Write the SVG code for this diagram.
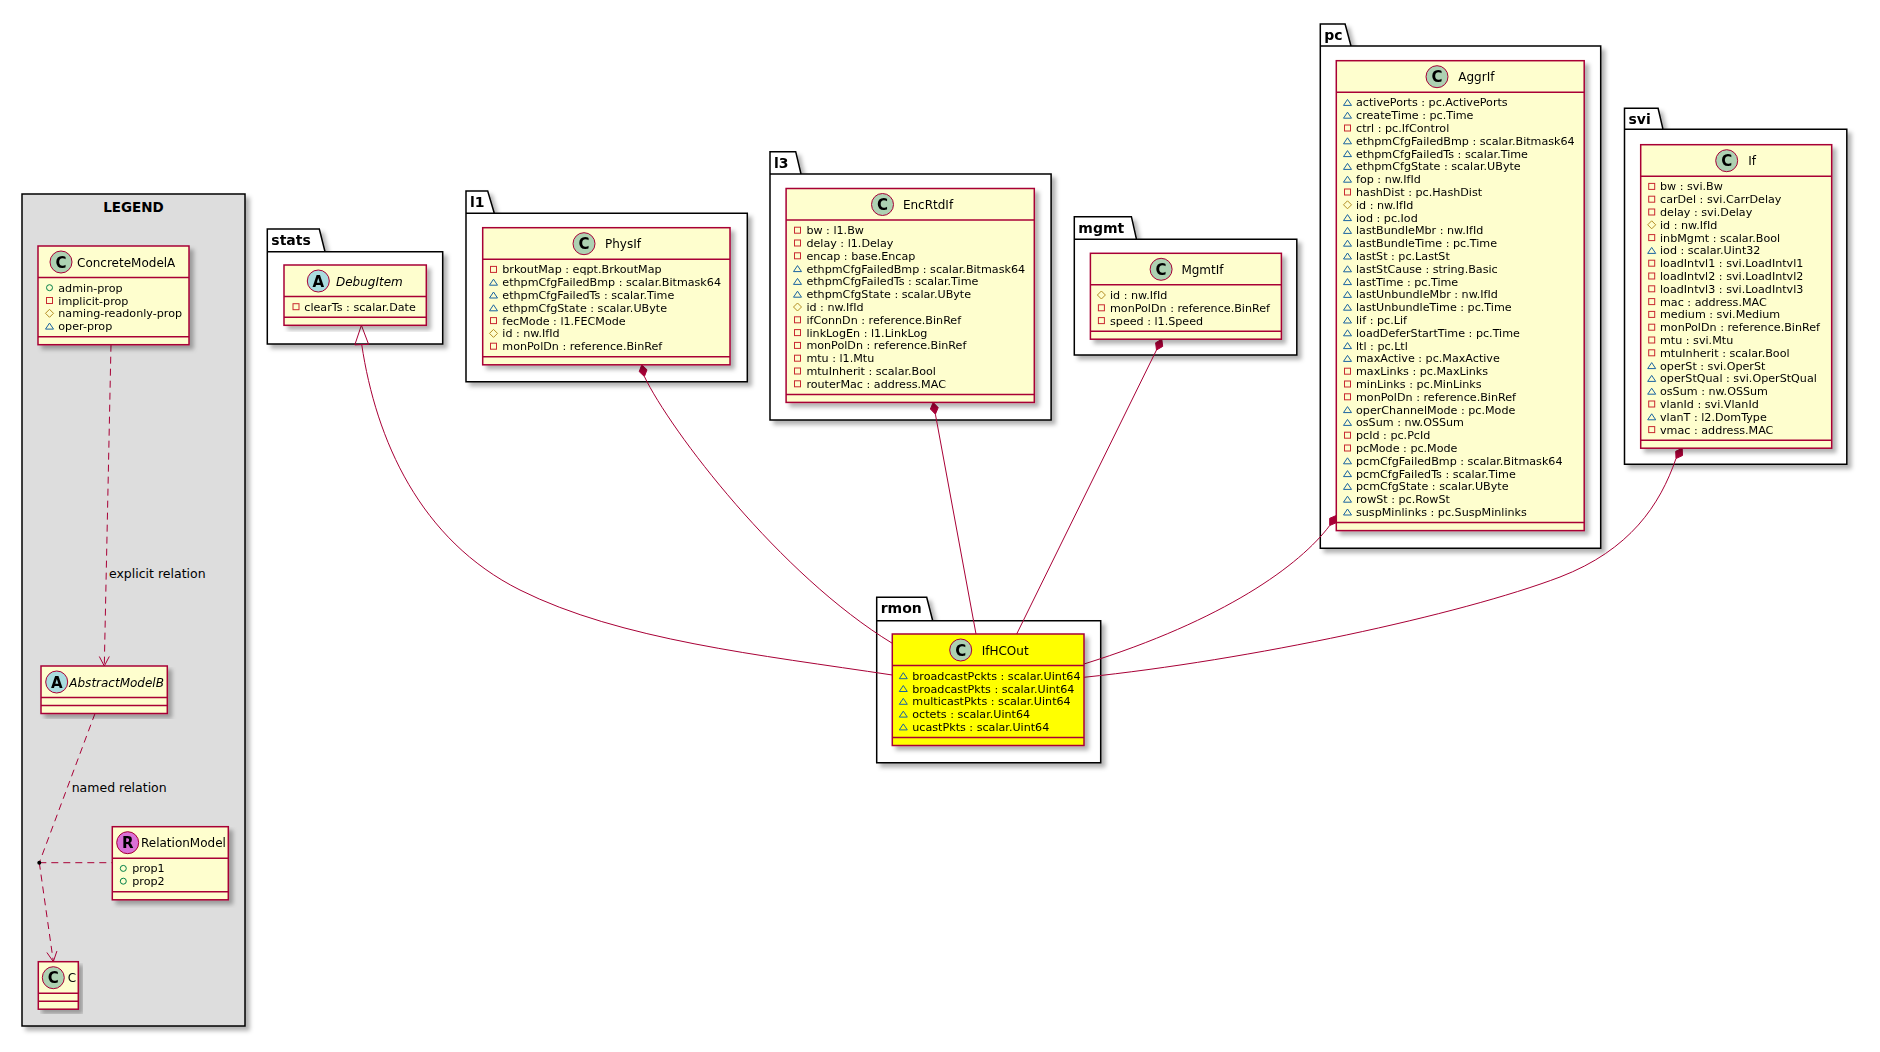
<svg xmlns="http://www.w3.org/2000/svg" width="1880" height="1052" viewBox="0 0 1880 1052">
<style>
.pkg{fill:#FFFFFF;stroke:#000000;stroke-width:1.5}
.pkl{font-family:"DejaVu Sans",sans-serif;font-weight:bold;font-size:14px;fill:#000}
.box{fill:#FEFECE;stroke:#A80036;stroke-width:1.5}
.hl{fill:#FFFF00;stroke:#A80036;stroke-width:1.5}
.sep{stroke:#A80036;stroke-width:1.5}
.ci{stroke:#A80036;stroke-width:1}
.cl{font-family:"DejaVu Sans",sans-serif;font-weight:bold;font-size:15px;text-anchor:middle;fill:#000}
.nm{font-family:"DejaVu Sans",sans-serif;font-size:12px;fill:#000}
.it{font-style:italic}
.mb{font-family:"DejaVu Sans",sans-serif;font-size:11.15px;fill:#000}
.ln{fill:none;stroke:#A80036;stroke-width:1}
.da{stroke-dasharray:7 5}
.lb{font-family:"DejaVu Sans",sans-serif;font-size:12.5px;fill:#000}
</style>
<defs>
<filter id="sh" x="-5%" y="-5%" width="115%" height="115%">
<feGaussianBlur in="SourceAlpha" stdDeviation="2"/>
<feOffset dx="4" dy="4" result="o"/>
<feFlood flood-color="#000" flood-opacity="0.3"/>
<feComposite in2="o" operator="in"/>
<feMerge><feMergeNode/><feMergeNode in="SourceGraphic"/></feMerge>
</filter>
<g id="pv"><rect x="-3" y="-3" width="6" height="6" fill="none" stroke="#C82930"/></g>
<g id="pk"><path d="M-4,3 L4,3 L0,-3 Z" fill="none" stroke="#1963A0"/></g>
<g id="pt"><path d="M-4,0 L0,-4 L4,0 L0,4 Z" fill="none" stroke="#B38D22"/></g>
<g id="pb"><circle r="3" fill="none" stroke="#038048"/></g>
</defs>
<rect width="1880" height="1052" fill="#FFFFFF"/>

<g id="legend">
<rect x="22" y="194" width="223" height="832" fill="#DDDDDD" stroke="#000" stroke-width="1.5" filter="url(#sh)"/>
<text x="133.5" y="212" text-anchor="middle" style="font-family:'DejaVu Sans',sans-serif;font-weight:bold;font-size:13.5px">LEGEND</text>
</g>

<g id="packages">
<g id="pkg-stats" filter="url(#sh)"><path class="pkg" d="M267.3,251.7 L267.3,229 L319.3,229 L325,251.7 L442.7,251.7 L442.7,344 L267.3,344 Z M267.3,251.7 L325,251.7"/><text class="pkl" x="271.3" y="245">stats</text></g>
<g id="pkg-l1" filter="url(#sh)"><path class="pkg" d="M466,213.3 L466,191 L487.7,191 L494.3,213.3 L747.3,213.3 L747.3,381.7 L466,381.7 Z M466,213.3 L494.3,213.3"/><text class="pkl" x="470" y="207">l1</text></g>
<g id="pkg-l3" filter="url(#sh)"><path class="pkg" d="M770,174 L770,151.7 L795.7,151.7 L801,174 L1051.1,174 L1051.1,420 L770,420 Z M770,174 L801,174"/><text class="pkl" x="774" y="167.7">l3</text></g>
<g id="pkg-mgmt" filter="url(#sh)"><path class="pkg" d="M1074.3,239.3 L1074.3,216.7 L1131.4,216.7 L1136.5,239.3 L1296.8,239.3 L1296.8,355 L1074.3,355 Z M1074.3,239.3 L1136.5,239.3"/><text class="pkl" x="1078.3" y="232.7">mgmt</text></g>
<g id="pkg-pc" filter="url(#sh)"><path class="pkg" d="M1320.3,46 L1320.3,24 L1345.1,24 L1351,46 L1600.7,46 L1600.7,548.3 L1320.3,548.3 Z M1320.3,46 L1351,46"/><text class="pkl" x="1324.3" y="40">pc</text></g>
<g id="pkg-svi" filter="url(#sh)"><path class="pkg" d="M1624.5,129.3 L1624.5,108.3 L1658.1,108.3 L1663,129.3 L1846.8,129.3 L1846.8,464.3 L1624.5,464.3 Z M1624.5,129.3 L1663,129.3"/><text class="pkl" x="1628.5" y="124.3">svi</text></g>
<g id="pkg-rmon" filter="url(#sh)"><path class="pkg" d="M876.7,620.7 L876.7,597.3 L926.7,597.3 L932.7,620.7 L1100.7,620.7 L1100.7,762.7 L876.7,762.7 Z M876.7,620.7 L932.7,620.7"/><text class="pkl" x="880.7" y="613.3">rmon</text></g>
</g>

<g id="connectors">
<path class="ln da" d="M111,344.7 L104.3,665.5"/>
<path class="ln" d="M99.3,656.5 L104.3,666 L109.3,656.5"/>
<text class="lb" x="109" y="578">explicit relation</text>
<path class="ln da" d="M95,713.5 L39.3,862.7"/>
<path class="ln da" d="M39.3,862.7 L112.3,862.7"/>
<path class="ln da" d="M39.3,862.7 L53.3,961.2"/>
<path class="ln" d="M46.9,952.5 L53.3,961.7 L56.9,951.1"/>
<circle cx="39.3" cy="862.7" r="2" fill="#000"/>
<text class="lb" x="71.7" y="792">named relation</text>

<path class="ln" d="M361.7,344.5 C376,440 420,540 520,590 C620,640 760,655 892.3,675"/>
<path d="M361.4,325.3 L368.6,344.3 L354.8,344.9 Z" fill="none" stroke="#A80036" stroke-width="1"/>

<path class="ln" d="M644.4,376.5 C670,430 780,575 892.3,643.3"/>
<path d="M641.8,364.8 L647,369.8 L644.4,376.5 L639.2,371.6 Z" fill="#A80036" stroke="#A80036" stroke-width="1"/>

<path class="ln" d="M935.4,414.2 L976,634"/>
<path d="M933.2,402.4 L938.2,407.6 L935.4,414.2 L930.4,409 Z" fill="#A80036" stroke="#A80036" stroke-width="1"/>

<path class="ln" d="M1156.5,350 L1016.7,634"/>
<path d="M1161.8,339.2 L1162.7,346.4 L1156.5,350 L1155.6,342.8 Z" fill="#A80036" stroke="#A80036" stroke-width="1"/>

<path class="ln" d="M1329.7,525.5 C1300,565 1225,620 1084,664"/>
<path d="M1336.3,515.5 L1336.3,522.7 L1329.7,525.5 L1329.7,518.3 Z" fill="#A80036" stroke="#A80036" stroke-width="1"/>

<path class="ln" d="M1676,458.5 C1660,505 1630,550 1560,577 C1460,615 1250,660 1084,677.3"/>
<path d="M1682.2,448.2 L1682.5,455.5 L1676,458.5 L1675.7,451.3 Z" fill="#A80036" stroke="#A80036" stroke-width="1"/>
</g>

<g id="ConcreteModelA" filter="url(#sh)">
<rect class="box" x="38" y="246" width="151" height="98.7"/>
<line class="sep" x1="38" y1="277.5" x2="189" y2="277.5"/>
<line class="sep" x1="38" y1="336.7" x2="189" y2="336.7"/>
<circle class="ci" cx="61" cy="262" r="11" fill="#ADD1B2"/>
<text class="cl" x="61" y="267.5">C</text>
<text class="nm" x="77" y="266.5">ConcreteModelA</text>
<use href="#pb" x="49.5" y="287.7"/><use href="#pv" x="49.5" y="300.5"/><use href="#pt" x="49.5" y="313.3"/><use href="#pk" x="49.5" y="326.1"/>
<text class="mb" x="58.3" y="291.7"><tspan x="58.3">admin-prop</tspan><tspan x="58.3" dy="12.8">implicit-prop</tspan><tspan x="58.3" dy="12.8">naming-readonly-prop</tspan><tspan x="58.3" dy="12.8">oper-prop</tspan></text>
</g>

<g id="AbstractModelB" filter="url(#sh)">
<rect class="box" x="41" y="666" width="126.3" height="47.5"/>
<line class="sep" x1="41" y1="697.5" x2="167.3" y2="697.5"/>
<line class="sep" x1="41" y1="705.5" x2="167.3" y2="705.5"/>
<circle class="ci" cx="56.7" cy="682" r="11" fill="#A9DCDF"/>
<text class="cl" x="56.7" y="687.5">A</text>
<text class="nm it" x="69.3" y="686.5">AbstractModelB</text>
</g>

<g id="RelationModel" filter="url(#sh)">
<rect class="box" x="112.3" y="826.7" width="116" height="73.1"/>
<line class="sep" x1="112.3" y1="858.2" x2="228.3" y2="858.2"/>
<line class="sep" x1="112.3" y1="891.8" x2="228.3" y2="891.8"/>
<circle class="ci" cx="127.7" cy="842.7" r="11" fill="#DA70D6"/>
<text class="cl" x="127.7" y="848.2">R</text>
<text class="nm" x="141" y="847.2">RelationModel</text>
<use href="#pb" x="123.3" y="868.4"/><use href="#pb" x="123.3" y="881.2"/>
<text class="mb" x="132.3" y="872.4"><tspan x="132.3">prop1</tspan><tspan x="132.3" dy="12.8">prop2</tspan></text>
</g>

<g id="C" filter="url(#sh)">
<rect class="box" x="38.3" y="961.7" width="40" height="47.5"/>
<line class="sep" x1="38.3" y1="993.2" x2="78.3" y2="993.2"/>
<line class="sep" x1="38.3" y1="1001.2" x2="78.3" y2="1001.2"/>
<circle class="ci" cx="53.3" cy="977.7" r="11" fill="#ADD1B2"/>
<text class="cl" x="53.3" y="983.2">C</text>
<text class="nm" x="67.7" y="982.2">C</text>
</g>

<g id="DebugItem" filter="url(#sh)">
<rect class="box" x="284" y="265" width="142.3" height="60.3"/>
<line class="sep" x1="284" y1="296.5" x2="426.3" y2="296.5"/>
<line class="sep" x1="284" y1="317.3" x2="426.3" y2="317.3"/>
<circle class="ci" cx="318.3" cy="281" r="11" fill="#A9DCDF"/>
<text class="cl" x="318.3" y="286.5">A</text>
<text class="nm it" x="336" y="285.5">DebugItem</text>
<use href="#pv" x="296" y="306.7"/>
<text class="mb" x="304.3" y="310.7">clearTs : scalar.Date</text>
</g>

<g id="PhysIf" filter="url(#sh)">
<rect class="box" x="482.7" y="227.7" width="247.3" height="137.1"/>
<line class="sep" x1="482.7" y1="259.2" x2="730" y2="259.2"/>
<line class="sep" x1="482.7" y1="356.8" x2="730" y2="356.8"/>
<circle class="ci" cx="584" cy="243.7" r="11" fill="#ADD1B2"/>
<text class="cl" x="584" y="249.2">C</text>
<text class="nm" x="605" y="248.2">PhysIf</text>
<use href="#pv" x="493.5" y="269.4"/><use href="#pk" x="493.5" y="282.2"/><use href="#pk" x="493.5" y="295"/><use href="#pk" x="493.5" y="307.8"/><use href="#pv" x="493.5" y="320.6"/><use href="#pt" x="493.5" y="333.4"/><use href="#pv" x="493.5" y="346.2"/>
<text class="mb" x="502.3" y="273.4"><tspan x="502.3">brkoutMap : eqpt.BrkoutMap</tspan><tspan x="502.3" dy="12.8">ethpmCfgFailedBmp : scalar.Bitmask64</tspan><tspan x="502.3" dy="12.8">ethpmCfgFailedTs : scalar.Time</tspan><tspan x="502.3" dy="12.8">ethpmCfgState : scalar.UByte</tspan><tspan x="502.3" dy="12.8">fecMode : l1.FECMode</tspan><tspan x="502.3" dy="12.8">id : nw.IfId</tspan><tspan x="502.3" dy="12.8">monPolDn : reference.BinRef</tspan></text>
</g>

<g id="EncRtdIf" filter="url(#sh)">
<rect class="box" x="786.1" y="188.5" width="248.2" height="213.9"/>
<line class="sep" x1="786.1" y1="220" x2="1034.3" y2="220"/>
<line class="sep" x1="786.1" y1="394.4" x2="1034.3" y2="394.4"/>
<circle class="ci" cx="882.5" cy="204.5" r="11" fill="#ADD1B2"/>
<text class="cl" x="882.5" y="210">C</text>
<text class="nm" x="902.9" y="209">EncRtdIf</text>
<use href="#pv" x="797.5" y="230.2"/><use href="#pv" x="797.5" y="243"/><use href="#pv" x="797.5" y="255.8"/><use href="#pk" x="797.5" y="268.6"/><use href="#pk" x="797.5" y="281.4"/><use href="#pk" x="797.5" y="294.2"/><use href="#pt" x="797.5" y="307"/><use href="#pv" x="797.5" y="319.8"/><use href="#pv" x="797.5" y="332.6"/><use href="#pv" x="797.5" y="345.4"/><use href="#pv" x="797.5" y="358.2"/><use href="#pv" x="797.5" y="371"/><use href="#pv" x="797.5" y="383.8"/>
<text class="mb" x="806.4" y="234.2"><tspan x="806.4">bw : l1.Bw</tspan><tspan x="806.4" dy="12.8">delay : l1.Delay</tspan><tspan x="806.4" dy="12.8">encap : base.Encap</tspan><tspan x="806.4" dy="12.8">ethpmCfgFailedBmp : scalar.Bitmask64</tspan><tspan x="806.4" dy="12.8">ethpmCfgFailedTs : scalar.Time</tspan><tspan x="806.4" dy="12.8">ethpmCfgState : scalar.UByte</tspan><tspan x="806.4" dy="12.8">id : nw.IfId</tspan><tspan x="806.4" dy="12.8">ifConnDn : reference.BinRef</tspan><tspan x="806.4" dy="12.8">linkLogEn : l1.LinkLog</tspan><tspan x="806.4" dy="12.8">monPolDn : reference.BinRef</tspan><tspan x="806.4" dy="12.8">mtu : l1.Mtu</tspan><tspan x="806.4" dy="12.8">mtuInherit : scalar.Bool</tspan><tspan x="806.4" dy="12.8">routerMac : address.MAC</tspan></text>
</g>

<g id="MgmtIf" filter="url(#sh)">
<rect class="box" x="1090.4" y="253.3" width="191" height="85.9"/>
<line class="sep" x1="1090.4" y1="284.8" x2="1281.4" y2="284.8"/>
<line class="sep" x1="1090.4" y1="331.2" x2="1281.4" y2="331.2"/>
<circle class="ci" cx="1161.1" cy="269.3" r="11" fill="#ADD1B2"/>
<text class="cl" x="1161.1" y="274.8">C</text>
<text class="nm" x="1181.4" y="273.8">MgmtIf</text>
<use href="#pt" x="1101.4" y="295"/><use href="#pv" x="1101.4" y="307.8"/><use href="#pv" x="1101.4" y="320.6"/>
<text class="mb" x="1110" y="299"><tspan x="1110">id : nw.IfId</tspan><tspan x="1110" dy="12.8">monPolDn : reference.BinRef</tspan><tspan x="1110" dy="12.8">speed : l1.Speed</tspan></text>
</g>

<g id="AggrIf" filter="url(#sh)">
<rect class="box" x="1336.3" y="60.7" width="247.9" height="469.9"/>
<line class="sep" x1="1336.3" y1="92.2" x2="1584.2" y2="92.2"/>
<line class="sep" x1="1336.3" y1="522.6" x2="1584.2" y2="522.6"/>
<circle class="ci" cx="1437" cy="76.7" r="11" fill="#ADD1B2"/>
<text class="cl" x="1437" y="82.2">C</text>
<text class="nm" x="1458.3" y="81.2">AggrIf</text>
<use href="#pk" x="1347.5" y="102.4"/><use href="#pk" x="1347.5" y="115.2"/><use href="#pv" x="1347.5" y="128"/><use href="#pk" x="1347.5" y="140.8"/><use href="#pk" x="1347.5" y="153.6"/><use href="#pk" x="1347.5" y="166.4"/><use href="#pk" x="1347.5" y="179.2"/><use href="#pv" x="1347.5" y="192"/><use href="#pt" x="1347.5" y="204.8"/><use href="#pk" x="1347.5" y="217.6"/><use href="#pk" x="1347.5" y="230.4"/><use href="#pk" x="1347.5" y="243.2"/><use href="#pk" x="1347.5" y="256"/><use href="#pk" x="1347.5" y="268.8"/><use href="#pk" x="1347.5" y="281.6"/><use href="#pk" x="1347.5" y="294.4"/><use href="#pk" x="1347.5" y="307.2"/><use href="#pk" x="1347.5" y="320"/><use href="#pk" x="1347.5" y="332.8"/><use href="#pk" x="1347.5" y="345.6"/><use href="#pk" x="1347.5" y="358.4"/><use href="#pv" x="1347.5" y="371.2"/><use href="#pv" x="1347.5" y="384"/><use href="#pv" x="1347.5" y="396.8"/><use href="#pk" x="1347.5" y="409.6"/><use href="#pk" x="1347.5" y="422.4"/><use href="#pv" x="1347.5" y="435.2"/><use href="#pv" x="1347.5" y="448"/><use href="#pk" x="1347.5" y="460.8"/><use href="#pk" x="1347.5" y="473.6"/><use href="#pk" x="1347.5" y="486.4"/><use href="#pk" x="1347.5" y="499.2"/><use href="#pk" x="1347.5" y="512"/>
<text class="mb" x="1356" y="106.4"><tspan x="1356">activePorts : pc.ActivePorts</tspan><tspan x="1356" dy="12.8">createTime : pc.Time</tspan><tspan x="1356" dy="12.8">ctrl : pc.IfControl</tspan><tspan x="1356" dy="12.8">ethpmCfgFailedBmp : scalar.Bitmask64</tspan><tspan x="1356" dy="12.8">ethpmCfgFailedTs : scalar.Time</tspan><tspan x="1356" dy="12.8">ethpmCfgState : scalar.UByte</tspan><tspan x="1356" dy="12.8">fop : nw.IfId</tspan><tspan x="1356" dy="12.8">hashDist : pc.HashDist</tspan><tspan x="1356" dy="12.8">id : nw.IfId</tspan><tspan x="1356" dy="12.8">iod : pc.Iod</tspan><tspan x="1356" dy="12.8">lastBundleMbr : nw.IfId</tspan><tspan x="1356" dy="12.8">lastBundleTime : pc.Time</tspan><tspan x="1356" dy="12.8">lastSt : pc.LastSt</tspan><tspan x="1356" dy="12.8">lastStCause : string.Basic</tspan><tspan x="1356" dy="12.8">lastTime : pc.Time</tspan><tspan x="1356" dy="12.8">lastUnbundleMbr : nw.IfId</tspan><tspan x="1356" dy="12.8">lastUnbundleTime : pc.Time</tspan><tspan x="1356" dy="12.8">lif : pc.Lif</tspan><tspan x="1356" dy="12.8">loadDeferStartTime : pc.Time</tspan><tspan x="1356" dy="12.8">ltl : pc.Ltl</tspan><tspan x="1356" dy="12.8">maxActive : pc.MaxActive</tspan><tspan x="1356" dy="12.8">maxLinks : pc.MaxLinks</tspan><tspan x="1356" dy="12.8">minLinks : pc.MinLinks</tspan><tspan x="1356" dy="12.8">monPolDn : reference.BinRef</tspan><tspan x="1356" dy="12.8">operChannelMode : pc.Mode</tspan><tspan x="1356" dy="12.8">osSum : nw.OSSum</tspan><tspan x="1356" dy="12.8">pcId : pc.PcId</tspan><tspan x="1356" dy="12.8">pcMode : pc.Mode</tspan><tspan x="1356" dy="12.8">pcmCfgFailedBmp : scalar.Bitmask64</tspan><tspan x="1356" dy="12.8">pcmCfgFailedTs : scalar.Time</tspan><tspan x="1356" dy="12.8">pcmCfgState : scalar.UByte</tspan><tspan x="1356" dy="12.8">rowSt : pc.RowSt</tspan><tspan x="1356" dy="12.8">suspMinlinks : pc.SuspMinlinks</tspan></text>
</g>

<g id="If" filter="url(#sh)">
<rect class="box" x="1640.7" y="144.7" width="191" height="303.5"/>
<line class="sep" x1="1640.7" y1="176.2" x2="1831.7" y2="176.2"/>
<line class="sep" x1="1640.7" y1="440.2" x2="1831.7" y2="440.2"/>
<circle class="ci" cx="1726.7" cy="160.7" r="11" fill="#ADD1B2"/>
<text class="cl" x="1726.7" y="166.2">C</text>
<text class="nm" x="1748.3" y="165.2">If</text>
<use href="#pv" x="1651.7" y="186.4"/><use href="#pv" x="1651.7" y="199.2"/><use href="#pv" x="1651.7" y="212"/><use href="#pt" x="1651.7" y="224.8"/><use href="#pv" x="1651.7" y="237.6"/><use href="#pk" x="1651.7" y="250.4"/><use href="#pv" x="1651.7" y="263.2"/><use href="#pv" x="1651.7" y="276"/><use href="#pv" x="1651.7" y="288.8"/><use href="#pv" x="1651.7" y="301.6"/><use href="#pv" x="1651.7" y="314.4"/><use href="#pv" x="1651.7" y="327.2"/><use href="#pv" x="1651.7" y="340"/><use href="#pv" x="1651.7" y="352.8"/><use href="#pk" x="1651.7" y="365.6"/><use href="#pk" x="1651.7" y="378.4"/><use href="#pk" x="1651.7" y="391.2"/><use href="#pv" x="1651.7" y="404"/><use href="#pk" x="1651.7" y="416.8"/><use href="#pv" x="1651.7" y="429.6"/>
<text class="mb" x="1660" y="190.4"><tspan x="1660">bw : svi.Bw</tspan><tspan x="1660" dy="12.8">carDel : svi.CarrDelay</tspan><tspan x="1660" dy="12.8">delay : svi.Delay</tspan><tspan x="1660" dy="12.8">id : nw.IfId</tspan><tspan x="1660" dy="12.8">inbMgmt : scalar.Bool</tspan><tspan x="1660" dy="12.8">iod : scalar.Uint32</tspan><tspan x="1660" dy="12.8">loadIntvl1 : svi.LoadIntvl1</tspan><tspan x="1660" dy="12.8">loadIntvl2 : svi.LoadIntvl2</tspan><tspan x="1660" dy="12.8">loadIntvl3 : svi.LoadIntvl3</tspan><tspan x="1660" dy="12.8">mac : address.MAC</tspan><tspan x="1660" dy="12.8">medium : svi.Medium</tspan><tspan x="1660" dy="12.8">monPolDn : reference.BinRef</tspan><tspan x="1660" dy="12.8">mtu : svi.Mtu</tspan><tspan x="1660" dy="12.8">mtuInherit : scalar.Bool</tspan><tspan x="1660" dy="12.8">operSt : svi.OperSt</tspan><tspan x="1660" dy="12.8">operStQual : svi.OperStQual</tspan><tspan x="1660" dy="12.8">osSum : nw.OSSum</tspan><tspan x="1660" dy="12.8">vlanId : svi.VlanId</tspan><tspan x="1660" dy="12.8">vlanT : l2.DomType</tspan><tspan x="1660" dy="12.8">vmac : address.MAC</tspan></text>
</g>

<g id="IfHCOut" filter="url(#sh)">
<rect class="hl" x="892.3" y="634" width="191.7" height="111.5"/>
<line class="sep" x1="892.3" y1="665.5" x2="1084" y2="665.5"/>
<line class="sep" x1="892.3" y1="737.5" x2="1084" y2="737.5"/>
<circle class="ci" cx="960.7" cy="650" r="11" fill="#ADD1B2"/>
<text class="cl" x="960.7" y="655.5">C</text>
<text class="nm" x="981.7" y="654.5">IfHCOut</text>
<use href="#pk" x="903.3" y="675.7"/><use href="#pk" x="903.3" y="688.5"/><use href="#pk" x="903.3" y="701.3"/><use href="#pk" x="903.3" y="714.1"/><use href="#pk" x="903.3" y="726.9"/>
<text class="mb" x="912.3" y="679.7"><tspan x="912.3">broadcastPckts : scalar.Uint64</tspan><tspan x="912.3" dy="12.8">broadcastPkts : scalar.Uint64</tspan><tspan x="912.3" dy="12.8">multicastPkts : scalar.Uint64</tspan><tspan x="912.3" dy="12.8">octets : scalar.Uint64</tspan><tspan x="912.3" dy="12.8">ucastPkts : scalar.Uint64</tspan></text>
</g>
</svg>
